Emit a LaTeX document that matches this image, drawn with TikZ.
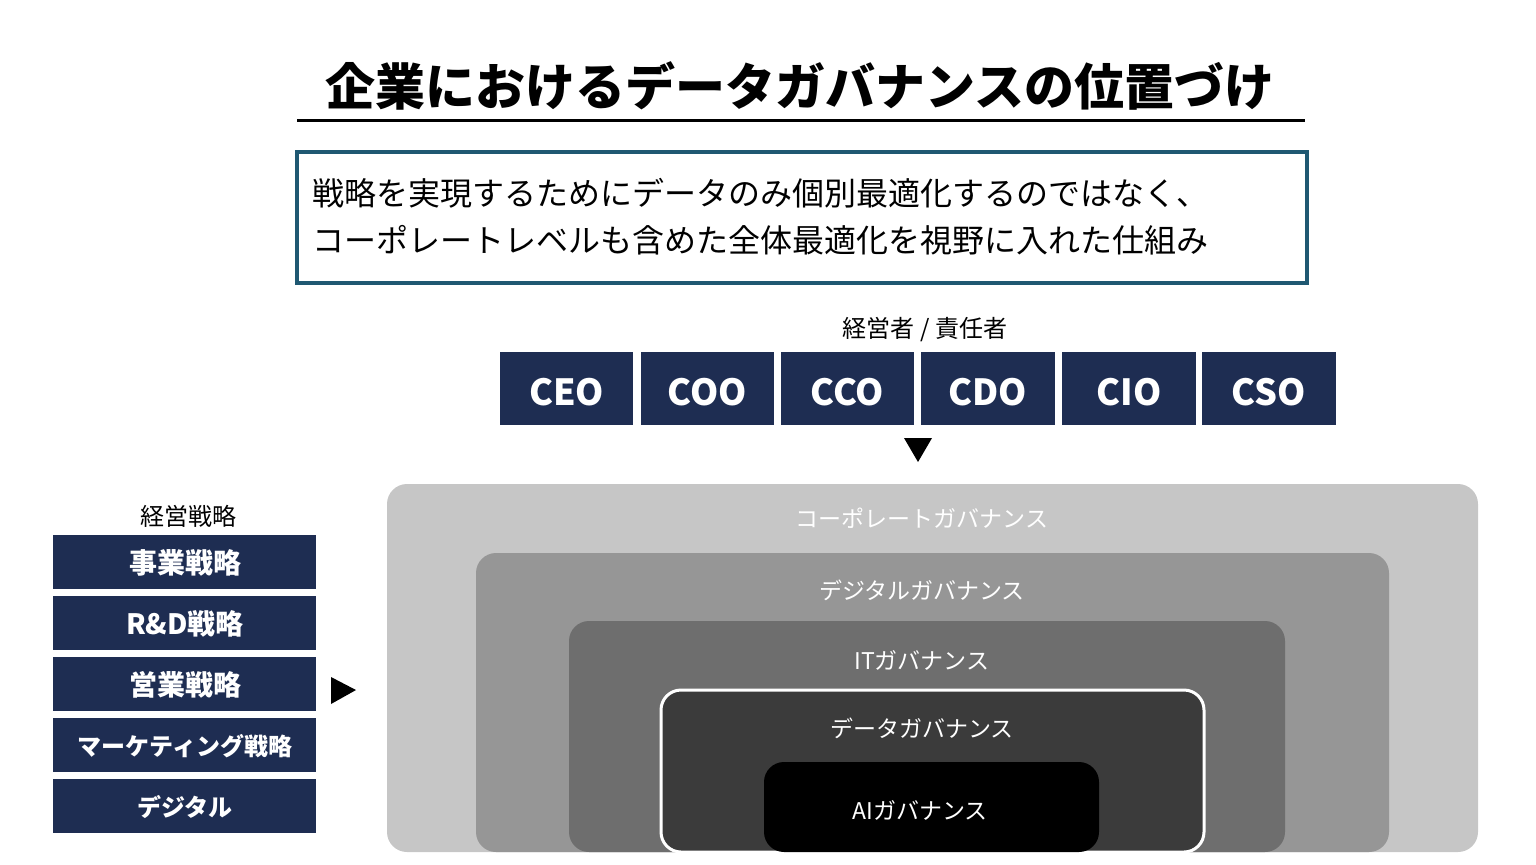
\documentclass[tikz,border=0pt]{standalone}
\usepackage{fontspec}
\setmainfont{Noto Sans CJK JP}
\begin{document}
\begin{tikzpicture}[x=0.5pt,y=-0.5pt,
  navy/.style={fill=c1,draw=none,text=white,font=\bfseries},
  gov/.style={draw=none,rounded corners=10pt},
  glab/.style={text=white,font=\fontsize{11.5}{12}\selectfont}]
\definecolor{c1}{HTML}{1E2D52}
\definecolor{teal}{HTML}{1F5872}
\useasboundingbox (0,0) rectangle (1536,864);
\node (title) at (800,86) {\bfseries\fontsize{25}{28}\selectfont 企業におけるデータガバナンスの位置づけ};
\draw[line width=1.5pt] (297,120) -- (1305,120);
\draw[teal,line width=2pt] (297,152) rectangle (1307,283);
\node[anchor=west,align=left,font=\fontsize{16}{23.5}\selectfont] (desc) at (305,217) {戦略を実現するためにデータのみ個別最適化するのではなく、\\コーポレートレベルも含めた全体最適化を視野に入れた仕組み};
\node (mgr) at (925,330) {\fontsize{12}{14}\selectfont 経営者 / 責任者};
\foreach \a/\b/\t in {500/633/CEO,641/774/COO,781/914/CCO,921/1055/CDO,1062/1196/CIO,1202/1336/CSO}{
  \fill[c1] (\a,352) rectangle (\b,425);
  \node[text=white,font=\bfseries\fontsize{18}{20}\selectfont] (n\t) at ({(\a+\b)/2},392) {\t};
}
\fill (904,438) -- (932,438) -- (918,462) -- cycle;
\node (strat) at (188,516) {\fontsize{12}{14}\selectfont 経営戦略};
\foreach \y/\t in {535/事業戦略,596/R\&D戦略,657/営業戦略,718/マーケティング戦略,779/デジタル / IT 戦略}{
  \fill[c1] (53,\y) rectangle (316,\y+54);
  \node[text=white,font=\bfseries\fontsize{\ifnum\y>700 12\else 14\fi}{16}\selectfont] at (185,\y+28) {\t};
}
\fill (331,677) -- (331,704) -- (356,690) -- cycle;
\fill[gray!45!white,rounded corners=10pt] (387,484) rectangle (1478,852);
\node[glab] (cg) at (922,518) {コーポレートガバナンス};
\fill[black!41,rounded corners=10pt] (476,553) rectangle (1389,852);
\node[glab] (dg) at (922,590) {デジタルガバナンス};
\fill[black!57,rounded corners=10pt] (569,621) rectangle (1285,852);
\node[glab] (itg) at (922,660) {ITガバナンス};
\draw[fill=black!77,draw=white,line width=1.5pt,rounded corners=10pt] (661,690) rectangle (1204,852);
\node[glab] (datag) at (922,728) {データガバナンス};
\fill[black,rounded corners=10pt] (764,762) rectangle (1099,852);
\node[glab] (aig) at (920,810) {AIガバナンス};
\end{tikzpicture}
\end{document}
